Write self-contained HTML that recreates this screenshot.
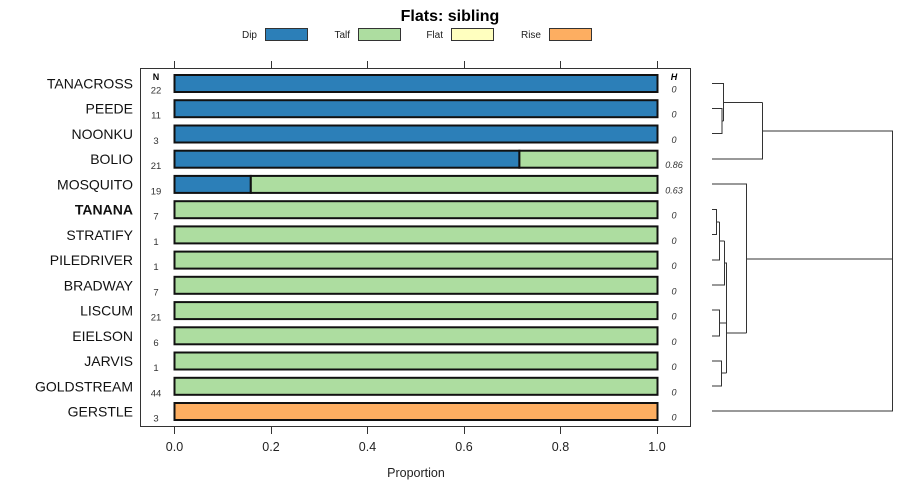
<!DOCTYPE html>
<html><head><meta charset="utf-8"><style>body{margin:0;background:#fff}svg{display:block}text{font-family:"Liberation Sans",sans-serif}</style></head><body>
<svg width="900" height="500" xmlns="http://www.w3.org/2000/svg">
<text x="450" y="21" text-anchor="middle" font-size="16" font-weight="bold">Flats: sibling</text>
<g font-size="10" fill="#222">
<text x="257" y="38" text-anchor="end">Dip</text><rect x="265.5" y="28.5" width="42" height="12" fill="#2c7fb8" stroke="#333"/>
<text x="350" y="38" text-anchor="end">Talf</text><rect x="358.5" y="28.5" width="42" height="12" fill="#addda0" stroke="#333"/>
<text x="443" y="38" text-anchor="end">Flat</text><rect x="451.5" y="28.5" width="42" height="12" fill="#ffffbf" stroke="#333"/>
<text x="541" y="38" text-anchor="end">Rise</text><rect x="549.5" y="28.5" width="42" height="12" fill="#fdae61" stroke="#333"/>
</g>
<rect x="140.5" y="68.5" width="550" height="358" fill="none" stroke="#333"/>
<g stroke="#333">
<line x1="174.5" y1="61" x2="174.5" y2="68"/><line x1="271.5" y1="61" x2="271.5" y2="68"/><line x1="367.5" y1="61" x2="367.5" y2="68"/><line x1="464.5" y1="61" x2="464.5" y2="68"/><line x1="560.5" y1="61" x2="560.5" y2="68"/><line x1="657.5" y1="61" x2="657.5" y2="68"/>
<line x1="174.5" y1="427" x2="174.5" y2="434"/><line x1="271.5" y1="427" x2="271.5" y2="434"/><line x1="367.5" y1="427" x2="367.5" y2="434"/><line x1="464.5" y1="427" x2="464.5" y2="434"/><line x1="560.5" y1="427" x2="560.5" y2="434"/><line x1="657.5" y1="427" x2="657.5" y2="434"/>
</g>
<g font-size="12.5" text-anchor="middle" fill="#222">
<text x="174.5" y="451">0.0</text><text x="271" y="451">0.2</text><text x="367.5" y="451">0.4</text><text x="464" y="451">0.6</text><text x="560.5" y="451">0.8</text><text x="657" y="451">1.0</text>
<text x="416" y="477">Proportion</text>
</g>
<text x="156" y="80" font-size="9" font-weight="bold" text-anchor="middle">N</text>
<text x="674" y="80" font-size="9" font-weight="bold" font-style="italic" text-anchor="middle">H</text>

<g font-size="14" fill="#111" text-anchor="end">
<text x="133" y="88.5">TANACROSS</text>
<text x="133" y="113.7">PEEDE</text>
<text x="133" y="139">NOONKU</text>
<text x="133" y="164.2">BOLIO</text>
<text x="133" y="189.4">MOSQUITO</text>
<text x="133" y="214.7" font-weight="bold">TANANA</text>
<text x="133" y="239.9">STRATIFY</text>
<text x="133" y="265.1">PILEDRIVER</text>
<text x="133" y="290.3">BRADWAY</text>
<text x="133" y="315.6">LISCUM</text>
<text x="133" y="340.8">EIELSON</text>
<text x="133" y="366">JARVIS</text>
<text x="133" y="391.3">GOLDSTREAM</text>
<text x="133" y="416.5">GERSTLE</text>
</g>
<g font-size="9.5" fill="#333" text-anchor="middle">
<text x="156" y="93.5">22</text><text x="156" y="118.7">11</text><text x="156" y="144">3</text><text x="156" y="169.2">21</text><text x="156" y="194.4">19</text><text x="156" y="219.7">7</text><text x="156" y="244.9">1</text><text x="156" y="270.1">1</text><text x="156" y="295.3">7</text><text x="156" y="320.6">21</text><text x="156" y="345.8">6</text><text x="156" y="371">1</text><text x="156" y="396.3">44</text><text x="156" y="421.5">3</text>
</g>
<g font-size="9" fill="#333" text-anchor="middle" font-style="italic">
<text x="674" y="92.5">0</text><text x="674" y="117.7">0</text><text x="674" y="143">0</text><text x="674" y="168.2">0.86</text><text x="674" y="193.4">0.63</text><text x="674" y="218.7">0</text><text x="674" y="243.9">0</text><text x="674" y="269.1">0</text><text x="674" y="294.3">0</text><text x="674" y="319.6">0</text><text x="674" y="344.8">0</text><text x="674" y="370">0</text><text x="674" y="395.3">0</text><text x="674" y="420.5">0</text>
</g>
<g stroke="#111" stroke-width="2">
<rect x="174.5" y="75" width="483" height="17" fill="#2c7fb8"/>
<rect x="174.5" y="100.2" width="483" height="17" fill="#2c7fb8"/>
<rect x="174.5" y="125.5" width="483" height="17" fill="#2c7fb8"/>
<rect x="174.5" y="150.7" width="344.9" height="17" fill="#2c7fb8"/>
<rect x="519.4" y="150.7" width="138.1" height="17" fill="#addda0"/>
<rect x="174.5" y="175.9" width="76.3" height="17" fill="#2c7fb8"/>
<rect x="250.8" y="175.9" width="406.7" height="17" fill="#addda0"/>
<rect x="174.5" y="201.2" width="483" height="17" fill="#addda0"/>
<rect x="174.5" y="226.4" width="483" height="17" fill="#addda0"/>
<rect x="174.5" y="251.6" width="483" height="17" fill="#addda0"/>
<rect x="174.5" y="276.8" width="483" height="17" fill="#addda0"/>
<rect x="174.5" y="302.1" width="483" height="17" fill="#addda0"/>
<rect x="174.5" y="327.3" width="483" height="17" fill="#addda0"/>
<rect x="174.5" y="352.5" width="483" height="17" fill="#addda0"/>
<rect x="174.5" y="377.8" width="483" height="17" fill="#addda0"/>
<rect x="174.5" y="403" width="483" height="17" fill="#fdae61"/>
</g>
<g stroke="#333" fill="none" stroke-width="1">
<path d="M712 83.5H723.5V102.5M712 108.5H722V133.5H712M722 121H723.5M723.5 83.5V121M723.5 102.5H762.5M712 159H762.5V102.5M762.5 131H892.5V411H712"/>
<path d="M712 184H746.5V333M746.5 259H892.5"/>
<path d="M712 209.5H716.5V234.5H712M716.5 222H719.5M712 260H719.5V222M719.5 241H724.5M712 285H724.5V241M724.5 263H726.5V373M712 310H719.5V336H712M719.5 323H726.5M712 361H721.5V386H712M721.5 373H726.5M726.5 333H746.5"/>
</g>
</svg>
</body></html>
